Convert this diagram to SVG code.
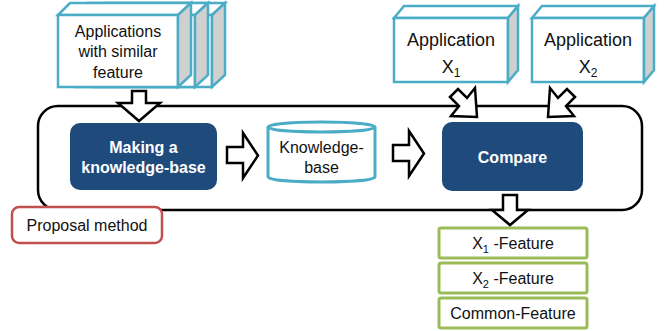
<svg xmlns="http://www.w3.org/2000/svg" width="672" height="331" viewBox="0 0 672 331">
<defs>
<style>
text{font-family:"Liberation Sans",Arial,sans-serif;font-size:16px;fill:#111;text-anchor:middle}
.bold{font-weight:bold;fill:#fff}
.big{font-size:18px}
.teal{fill:#fff;stroke:#4bacc6;stroke-width:2.5;stroke-linejoin:miter}
.side{fill:#d0d0d0;stroke:#4bacc6;stroke-width:2.5}
.proc{fill:#1f4a7c}
.feat{fill:#fff;stroke:#9bbb59;stroke-width:3}
.blk{fill:#fff;stroke:#000;stroke-width:2.5;stroke-linejoin:miter}
.sub{font-size:11px}
.bsub{font-size:12px}
</style>
</defs>
<rect width="672" height="331" fill="#fff"/>

<g id="proposal-frame">
<rect x="38" y="106" width="604" height="104" rx="20" fill="#fff" stroke="#000" stroke-width="2.5"/>
</g>

<g id="apps-similar">
<g transform="translate(34,0)">
<polygon class="teal" points="58,15 70,3 191,3 178,15"/>
<rect class="teal" x="58" y="15" width="120" height="72"/>
<polygon class="side" points="178,15 191,3 191,75 178,87"/>
</g>
<g transform="translate(17,0)">
<polygon class="teal" points="58,15 70,3 191,3 178,15"/>
<rect class="teal" x="58" y="15" width="120" height="72"/>
<polygon class="side" points="178,15 191,3 191,75 178,87"/>
</g>
<polygon class="teal" points="58,15 70,3 191,3 178,15"/>
<rect class="teal" x="58" y="15" width="120" height="72"/>
<polygon class="side" points="178,15 191,3 191,75 178,87"/>
<text x="118" y="37">Applications</text>
<text x="118" y="57">with similar</text>
<text x="118" y="78">feature</text>
</g>

<g id="app-x1">
<polygon class="teal" points="394,18 404,6 518,6 508,18"/>
<rect class="teal" x="394" y="18" width="114" height="64"/>
<polygon class="side" points="508,18 518,6 518,70 508,82"/>
<text class="big" x="451" y="46">Application</text>
<text class="big" x="451" y="73">X<tspan class="bsub" dy="4">1</tspan></text>
</g>

<g id="app-x2">
<polygon class="teal" points="532,18 542,6 654,6 644,18"/>
<rect class="teal" x="532" y="18" width="112" height="64"/>
<polygon class="side" points="644,18 654,6 654,70 644,82"/>
<text class="big" x="588" y="46">Application</text>
<text class="big" x="588" y="73">X<tspan class="bsub" dy="4">2</tspan></text>
</g>

<g id="making-kb">
<rect class="proc" x="70" y="123" width="147" height="67" rx="10"/>
<text class="bold" x="143.5" y="153">Making a</text>
<text class="bold" x="143.5" y="173">knowledge-base</text>
</g>

<g id="knowledge-base">
<path d="M268,127 V177 A53.5,5 0 0 0 375,177 V127" fill="#fff" stroke="#4bacc6" stroke-width="3"/>
<ellipse cx="321.5" cy="127" rx="53.5" ry="5" fill="#fff" stroke="#4bacc6" stroke-width="3"/>
<text x="321.5" y="153">Knowledge-</text>
<text x="321.5" y="173">base</text>
</g>

<g id="compare">
<rect class="proc" x="442" y="122" width="141" height="69" rx="10"/>
<text class="bold" x="512.5" y="163">Compare</text>
</g>

<g id="proposal-method">
<rect x="12" y="207" width="150" height="36" rx="7" fill="#fff" stroke="#c0504d" stroke-width="2.5"/>
<text x="87" y="231">Proposal method</text>
</g>

<g id="x1-feature">
<rect class="feat" x="439" y="228" width="148" height="30" rx="2"/>
<text x="513" y="249">X<tspan class="sub" dy="4">1</tspan><tspan dy="-4"> -Feature</tspan></text>
</g>
<g id="x2-feature">
<rect class="feat" x="439" y="263" width="148" height="30" rx="2"/>
<text x="513" y="284">X<tspan class="sub" dy="4">2</tspan><tspan dy="-4"> -Feature</tspan></text>
</g>
<g id="common-feature">
<rect class="feat" x="439" y="298" width="148" height="30" rx="2"/>
<text x="513" y="319">Common-Feature</text>
</g>

<g id="connectors">
<polygon class="blk" points="132,91 146,91 146,103 160,103 139,121 118,103 132,103"/>
<polygon class="blk" points="227,147 243,147 243,133 258,155.5 243,178 243,163 227,163"/>
<polygon class="blk" points="393,145 409,145 409,131 424,153.5 409,176 409,161 393,161"/>
<polygon class="blk" points="503,195 517,195 517,210 528,210 510,225 492,210 503,210"/>
<polygon class="blk" points="450,97 458,89 467,98 475,88 477,117 451,116 459,106"/>
<polygon class="blk" points="575,97 567,89 558,98 550,88 548,117 574,116 566,106"/>
</g>
</svg>
